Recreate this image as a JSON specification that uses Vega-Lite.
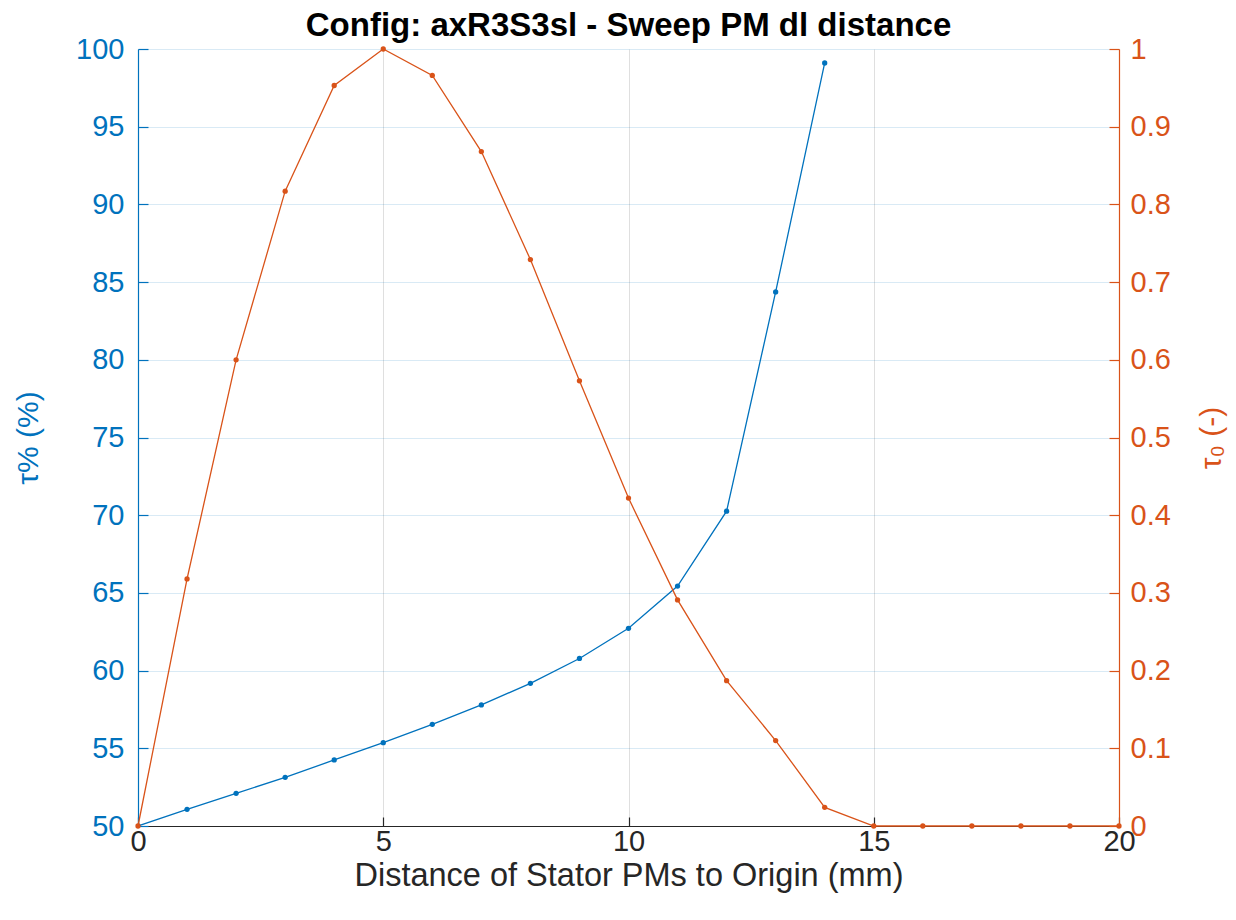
{
  "$schema": "https://vega.github.io/schema/vega-lite/v6.json",
  "width": 981,
  "height": 777,
  "autosize": "none",
  "padding": {"left": 138, "top": 49, "right": 117, "bottom": 94},
  "background": "white",
  "config": {
    "view": {"stroke": null},
    "font": "Liberation Sans"
  },
  "title": {
    "text": "Config: axR3S3sl - Sweep PM dl distance",
    "font": "Liberation Sans",
    "fontSize": 33,
    "fontWeight": "bold",
    "color": "black",
    "anchor": "middle",
    "offset": -8
  },
  "datasets": {
    "pct": [
      {"d": 0, "v": 50.0},
      {"d": 1, "v": 51.07},
      {"d": 2, "v": 52.1},
      {"d": 3, "v": 53.13},
      {"d": 4, "v": 54.25},
      {"d": 5, "v": 55.36},
      {"d": 6, "v": 56.54},
      {"d": 7, "v": 57.79},
      {"d": 8, "v": 59.18},
      {"d": 9, "v": 60.78},
      {"d": 10, "v": 62.72},
      {"d": 11, "v": 65.44},
      {"d": 12, "v": 70.26},
      {"d": 13, "v": 84.37},
      {"d": 14, "v": 99.1}
    ],
    "tau0": [
      {"d": 0, "v": 0.0},
      {"d": 1, "v": 0.318},
      {"d": 2, "v": 0.6},
      {"d": 3, "v": 0.817},
      {"d": 4, "v": 0.953},
      {"d": 5, "v": 1.0},
      {"d": 6, "v": 0.966},
      {"d": 7, "v": 0.868},
      {"d": 8, "v": 0.729},
      {"d": 9, "v": 0.573},
      {"d": 10, "v": 0.422},
      {"d": 11, "v": 0.291},
      {"d": 12, "v": 0.187},
      {"d": 13, "v": 0.11},
      {"d": 14, "v": 0.024},
      {"d": 15, "v": 0.0},
      {"d": 16, "v": 0.0},
      {"d": 17, "v": 0.0},
      {"d": 18, "v": 0.0},
      {"d": 19, "v": 0.0},
      {"d": 20, "v": 0.0}
    ]
  },
  "layer": [
    {
      "data": {"name": "pct"},
      "mark": {"type": "line", "color": "#0072BD", "strokeWidth": 1.3, "clip": true, "point": {"filled": true, "size": 28, "color": "#0072BD"}},
      "encoding": {
        "x": {
          "field": "d", "type": "quantitative",
          "scale": {"domain": [0, 20], "nice": false, "zero": false},
          "axis": {
            "title": "Distance of Stator PMs to Origin (mm)",
            "values": [0, 5, 10, 15, 20],
            "labelFlush": false,
            "labelFont": "Liberation Sans", "labelFontSize": 29, "labelColor": "#262626",
            "titleFont": "Liberation Sans", "titleFontSize": 32.5, "titleColor": "#262626", "titleFontWeight": "normal",
            "titlePadding": 3,
            "domainColor": "#262626", "domainWidth": 1.2,
            "tickColor": "#262626", "tickSize": -9, "tickWidth": 1.2,
            "labelPadding": 10,
            "grid": true, "gridColor": "#262626", "gridOpacity": 0.15, "gridWidth": 1
          }
        },
        "y": {
          "field": "v", "type": "quantitative",
          "scale": {"domain": [50, 100], "nice": false, "zero": false},
          "axis": {
            "title": "τ% (%)",
            "orient": "left",
            "values": [50, 55, 60, 65, 70, 75, 80, 85, 90, 95, 100],
            "labelFlush": false,
            "labelFont": "Liberation Sans", "labelFontSize": 29, "labelColor": "#0072BD",
            "titleFont": "Liberation Sans", "titleFontSize": 30, "titleColor": "#0072BD", "titleFontWeight": "normal",
            "titlePadding": 32,
            "domainColor": "#0072BD", "domainWidth": 1.2,
            "tickColor": "#0072BD", "tickSize": -10, "tickWidth": 1.2,
            "labelPadding": 24,
            "grid": true, "gridColor": "#0072BD", "gridOpacity": 0.15, "gridWidth": 1
          }
        }
      }
    },
    {
      "data": {"name": "tau0"},
      "mark": {"type": "line", "color": "#D95319", "strokeWidth": 1.3, "clip": false, "point": {"filled": true, "size": 28, "color": "#D95319"}},
      "encoding": {
        "x": {"field": "d", "type": "quantitative"},
        "y": {
          "field": "v", "type": "quantitative",
          "scale": {"domain": [0, 1], "nice": false, "zero": false},
          "axis": {
            "title": "τ₀ (-)",
            "orient": "right",
            "values": [0, 0.1, 0.2, 0.3, 0.4, 0.5, 0.6, 0.7, 0.8, 0.9, 1],
            "format": "~g",
            "labelFlush": false,
            "labelFont": "Liberation Sans", "labelFontSize": 29, "labelColor": "#D95319",
            "titleFont": "Liberation Sans", "titleFontSize": 30, "titleColor": "#D95319", "titleFontWeight": "normal",
            "titleAngle": 270,
            "titleBaseline": "top",
            "titlePadding": 26,
            "domainColor": "#D95319", "domainWidth": 1.2,
            "tickColor": "#D95319", "tickSize": -10, "tickWidth": 1.2,
            "labelPadding": 21,
            "grid": false
          }
        }
      }
    }
  ],
  "resolve": {"scale": {"y": "independent"}}
}
